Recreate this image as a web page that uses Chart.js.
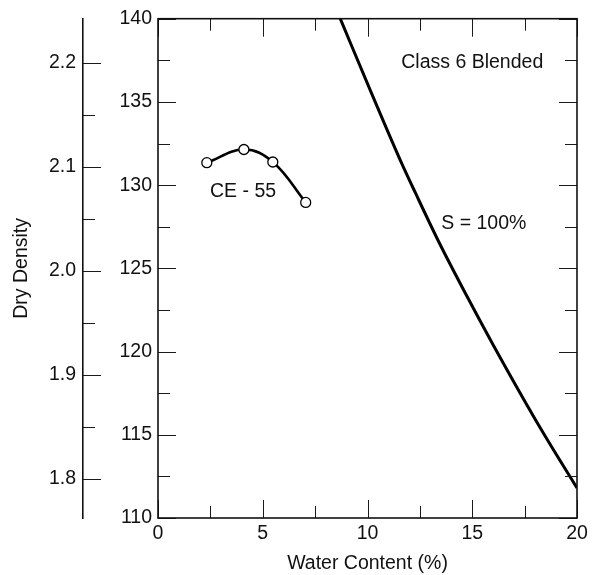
<!DOCTYPE html>
<html><head><meta charset="utf-8">
<script src="https://cdn.jsdelivr.net/npm/chart.js@4"></script>
<style>html,body{margin:0;padding:0;background:#fff}canvas{display:block}</style>
</head><body>
<canvas id="c" width="594" height="575"></canvas>
<script>
// ---- data ----
const waterContentCE55 = [2.33, 4.10, 5.48, 7.05];
const dryDensityCE55   = [131.35, 132.14, 131.39, 128.96];
const waterContentSat  = [8.7, 10.2, 11.6, 12.3, 13.4, 14.8, 16.0, 18.3, 20.0];
const dryDensitySat    = [140.0, 135.5, 131.4, 129.5, 126.6, 123.2, 120.4, 115.3, 111.8];
const xTickValues  = [0, 5, 10, 15, 20];
const yTickValues  = [110, 115, 120, 125, 130, 135, 140];
const y2TickValues = [1.8, 1.9, 2.0, 2.1, 2.2];
const annotationTexts = ['Class 6 Blended', 'CE - 55', 'S = 100%'];
const annotationX = [15.0, 4.06, 15.55];
const annotationY = [137.35, 129.6, 127.7];
const PCF_TO_MG = 0.0160185;

const FONT = '"Liberation Sans", Arial, Helvetica, sans-serif';
const FS = 19.5;
Chart.defaults.font.family = FONT;
Chart.defaults.font.size = FS;
Chart.defaults.color = '#111';

function mids(arr){ const m=[]; for(let i=0;i<arr.length-1;i++) m.push((arr[i]+arr[i+1])/2); return m; }

const tickPlugin = {
  id: 'inwardTicks',
  afterDraw(chart){
    const ctx = chart.ctx;
    const {left,right,top,bottom} = chart.chartArea;
    const xs = chart.scales.x, ys = chart.scales.y, y2 = chart.scales.y2;
    ctx.save();
    ctx.strokeStyle = '#1a1a1a';
    ctx.lineWidth = 1;
    const line=(a,b,c,d)=>{ctx.beginPath();ctx.moveTo(a,b);ctx.lineTo(c,d);ctx.stroke();};
    const doX=(vals,len)=>vals.forEach(v=>{const p=Math.round(xs.getPixelForValue(v))+0.5; line(p,bottom,p,bottom-len); line(p,top,p,top+len);});
    const doY=(vals,len)=>vals.forEach(v=>{const p=Math.round(ys.getPixelForValue(v))+0.5; line(left,p,left+len,p); line(right,p,right-len,p);});
    doX(xTickValues,18); doX(mids(xTickValues),12);
    doY(yTickValues,18); doY(mids(yTickValues),12);
    const ax = y2.right;
    y2TickValues.forEach(v=>{const p=Math.round(y2.getPixelForValue(v))+0.5; line(ax,p,ax+18,p);});
    mids(y2TickValues).forEach(v=>{const p=Math.round(y2.getPixelForValue(v))+0.5; line(ax,p,ax+12,p);});
    ctx.lineWidth = 1.6;
    ctx.strokeStyle = '#111';
    ctx.strokeRect(left, top, right-left, bottom-top);
    ctx.restore();
  },
  afterDatasetsDraw(chart){
    const ctx = chart.ctx;
    const xs = chart.scales.x, ys = chart.scales.y;
    ctx.save();
    ctx.font = FS + 'px ' + FONT;
    ctx.fillStyle = '#111';
    ctx.textAlign = 'center';
    ctx.textBaseline = 'middle';
    annotationTexts.forEach((t,i)=>{
      ctx.fillText(t, xs.getPixelForValue(annotationX[i]), ys.getPixelForValue(annotationY[i]));
    });
    ctx.restore();
  }
};

const setTicks = arr => scale => { scale.ticks = arr.map(v=>({value:v})); };

new Chart(document.getElementById('c'), {
  type: 'scatter',
  data: {
    datasets: [
      {
        label: 'CE - 55',
        data: waterContentCE55.map((x,i)=>({x, y: dryDensityCE55[i]})),
        showLine: true,
        borderColor: '#000',
        borderWidth: 2.6,
        tension: 0.4,
        pointRadius: 5,
        pointBorderWidth: 1.3,
        pointBackgroundColor: '#fff',
        pointBorderColor: '#000'
      },
      {
        label: 'S = 100%',
        data: waterContentSat.map((x,i)=>({x, y: dryDensitySat[i]})),
        showLine: true,
        borderColor: '#000',
        borderWidth: 3,
        cubicInterpolationMode: 'monotone',
        pointRadius: 0
      }
    ]
  },
  options: {
    responsive: false,
    animation: false,
    devicePixelRatio: 1,
    layout: { padding: { top: 15, right: 17, left: 0, bottom: 0 } },
    plugins: { legend: { display: false }, tooltip: { enabled: false } },
    scales: {
      x: {
        type: 'linear', position: 'bottom', min: 0, max: 20,
        afterBuildTicks: setTicks(xTickValues),
        afterFit: s => { s.height = 57; },
        grid: { display: false, drawTicks: false },
        border: { display: false },
        ticks: { padding: 4, color: '#111', maxRotation: 0 },
        title: { display: true, text: 'Water Content (%)', color: '#111', padding: { top: 0, bottom: 0 } }
      },
      y: {
        type: 'linear', position: 'left', min: 110, max: 140, weight: 0,
        afterBuildTicks: setTicks(yTickValues),
        afterFit: s => { s.width = 75; },
        grid: { display: false, drawTicks: false },
        border: { display: false },
        ticks: { padding: 6, color: '#111' }
      },
      y2: {
        type: 'linear', position: 'left', weight: 10,
        min: 110 * PCF_TO_MG, max: 140 * PCF_TO_MG,
        afterBuildTicks: setTicks(y2TickValues),
        afterFit: s => { s.width = 83; },
        grid: { display: false, drawTicks: false, drawOnChartArea: false },
        border: { display: true, color: '#111', width: 1.6 },
        ticks: { padding: 7, color: '#111', callback: v => v.toFixed(1) },
        title: { display: true, text: 'Dry Density', color: '#111', padding: { top: 10, bottom: 0 } }
      }
    }
  },
  plugins: [tickPlugin]
});
</script>
</body></html>
